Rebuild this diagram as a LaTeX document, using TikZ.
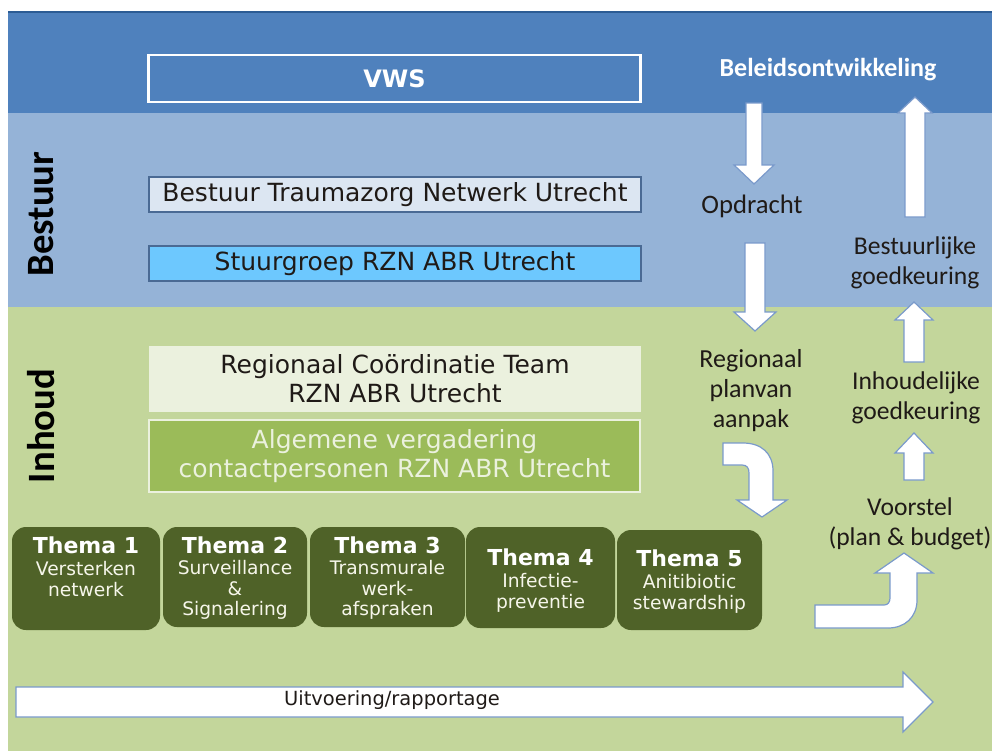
\documentclass[tikz,border=0pt]{standalone}
\usepackage{fontspec}
\setmainfont{DejaVu Sans}
\newfontfamily\calfont{Carlito}
\definecolor{bandtop}{HTML}{4F81BD}
\definecolor{bandmid}{HTML}{95B3D7}
\definecolor{bandlow}{HTML}{C3D69B}
\definecolor{topline}{HTML}{2C5C94}
\definecolor{boxlight}{HTML}{DCE6F2}
\definecolor{boxsky}{HTML}{6DC8FE}
\definecolor{boxedge}{HTML}{4A6A94}
\definecolor{rctfill}{HTML}{EBF1DE}
\definecolor{algfill}{HTML}{9BBB59}
\definecolor{themafill}{HTML}{4F6228}
\definecolor{arrowedge}{HTML}{7A9ACB}
\definecolor{txt}{HTML}{1F1A17}
\definecolor{themetxt}{HTML}{F6F6EA}
\tikzset{
  bigbox/.style={rectangle, inner sep=0pt, minimum width=369pt, align=center, text=txt,
    font=\fontsize{18.75}{21.75}\selectfont},
  themabox/.style={rectangle, rounded corners=10.5pt, fill=themafill, inner sep=0pt},
  thematitle/.style={inner sep=0pt, text=white, font=\fontsize{16.5}{18}\selectfont\bfseries},
  themadesc/.style={inner sep=0pt, anchor=north, align=center, text=themetxt,
    font=\fontsize{14}{15.5}\selectfont},
  rlabel/.style={inner sep=0pt, align=center, text=txt,
    font=\calfont\fontsize{19.2}{22.5}\selectfont},
  blockarrow/.style={fill=white, draw=arrowedge, line width=0.9pt, line join=miter},
  sidehead/.style={rotate=90, inner sep=0pt, text=black,
    font=\calfont\bfseries\fontsize{29}{30}\selectfont}
}
\begin{document}
\begin{tikzpicture}[x=0.75pt,y=-0.75pt]
\useasboundingbox (0,0) rectangle (992,751);
\fill[white] (0,0) rectangle (992,751);
% bands
\fill[bandtop] (8,12) rectangle (992,113);
\fill[bandmid] (8,113) rectangle (992,307);
\fill[bandlow] (8,307) rectangle (992,751);
\draw[topline, line width=1.5pt] (8,12) -- (992,12);

% side headings
\node[sidehead] (bestuur) at (41,214) {Bestuur};
\node[sidehead] (inhoud) at (41,426) {Inhoud};

% main boxes
\node[bigbox, draw=white, line width=1.9pt, fill=bandtop, minimum height=35.25pt, text=white,
  font=\fontsize{18}{20}\selectfont\bfseries] (vws) at (394.5,78.5) {VWS};
\node[bigbox, draw=boxedge, line width=0.8pt, fill=boxlight, minimum height=26.25pt] (btn) at (395,194.5)
  {Bestuur Traumazorg Netwerk Utrecht};
\node[bigbox, draw=boxedge, line width=0.8pt, fill=boxsky, minimum height=26.25pt] (stuur) at (395,263.5)
  {Stuurgroep RZN ABR Utrecht};
\node[bigbox, fill=rctfill, minimum height=49.5pt] (rct) at (395,379)
  {Regionaal Coördinatie Team\\RZN ABR Utrecht};
\node[bigbox, draw=rctfill, line width=1.5pt, fill=algfill, minimum height=54pt, minimum width=368.25pt,
  text=rctfill] (alg) at (394.5,456)
  {Algemene vergadering\\contactpersonen RZN ABR Utrecht};

% thema boxes
\node[themabox, minimum width=111pt, minimum height=77.25pt] (th1) at (86,578.5) {};
\node[themabox, minimum width=108pt, minimum height=75pt] (th2) at (235,577) {};
\node[themabox, minimum width=116.25pt, minimum height=75pt] (th3) at (387.5,577) {};
\node[themabox, minimum width=111.75pt, minimum height=75.75pt] (th4) at (540.5,577.5) {};
\node[themabox, minimum width=108.75pt, minimum height=75pt] (th5) at (689.5,580) {};

\node[thematitle] (t1) at (86,545) {Thema 1};
\node[themadesc] (d1) at (86,561) {Versterken\\netwerk};
\node[thematitle] (t2) at (235,545) {Thema 2};
\node[themadesc] (d2) at (235,560) {Surveillance\\\&\\Signalering};
\node[thematitle] (t3) at (387.5,545) {Thema 3};
\node[themadesc] (d3) at (387.5,560) {Transmurale\\werk-\\afspraken};
\node[thematitle] (t4) at (540.5,557) {Thema 4};
\node[themadesc] (d4) at (540.5,573) {Infectie-\\preventie};
\node[thematitle] (t5) at (689.5,558) {Thema 5};
\node[themadesc] (d5) at (689.5,574) {Anitibiotic\\stewardship};

% block arrows
\path[blockarrow] (746,103) -- (762,103) -- (762,165) -- (774,165) -- (754,184) -- (734,165) -- (746,165) -- cycle;
\path[blockarrow] (745,243) -- (765,243) -- (765,312) -- (776,312) -- (755,331) -- (734,312) -- (745,312) -- cycle;
\path[blockarrow] (905,217) -- (925,217) -- (925,113) -- (932,113) -- (915,97) -- (898,113) -- (905,113) -- cycle;
\path[blockarrow] (904,362) -- (924,362) -- (924,320) -- (933,320) -- (914,302) -- (895,320) -- (904,320) -- cycle;
\path[blockarrow] (904,480) -- (924,480) -- (924,453) -- (933,453) -- (914,433) -- (895,453) -- (904,453) -- cycle;
% bent arrow: right then down
\path[blockarrow] (723,443) -- (743,443) .. controls (761,443) and (773,453) .. (773,471) -- (773,500)
  -- (787,500) -- (762,517) -- (737,500) -- (749,500) -- (749,473)
  .. controls (749,468) and (747,465) .. (742,465) -- (723,465) -- cycle;
% bent arrow: right then up
\path[blockarrow] (815,605) -- (884,605) .. controls (888,605) and (890,602) .. (890,598) -- (890,573)
  -- (875,573) -- (904,553) -- (933,573) -- (917,573) -- (917,600)
  .. controls (917,617) and (905,628) .. (888,628) -- (815,628) -- cycle;
% long arrow
\path[blockarrow] (16,687) -- (903,687) -- (903,672) -- (933,702) -- (903,732) -- (903,717) -- (16,717) -- cycle;
\node[inner sep=0pt, text=txt, font=\fontsize{14.6}{16}\selectfont] (uitv) at (392,700) {Uitvoering/rapportage};

% right-hand labels
\node[inner sep=0pt, text=white, font=\calfont\bfseries\fontsize{19.5}{21}\selectfont] (beleid) at (828,70) {Beleidsontwikkeling};
\node[rlabel, font=\calfont\fontsize{20}{22}\selectfont] (opdracht) at (752,206) {Opdracht};
\node[rlabel, font=\calfont\fontsize{19.5}{22.5}\selectfont] (rpva) at (751,391) {Regionaal\\planvan\\aanpak};
\node[rlabel] (bgk) at (915,263) {Bestuurlijke\\goedkeuring};
\node[rlabel] (igk) at (916,398) {Inhoudelijke\\goedkeuring};
\node[rlabel] (voorstel) at (910,524) {Voorstel\\(plan \& budget)};
\end{tikzpicture}
\end{document}
